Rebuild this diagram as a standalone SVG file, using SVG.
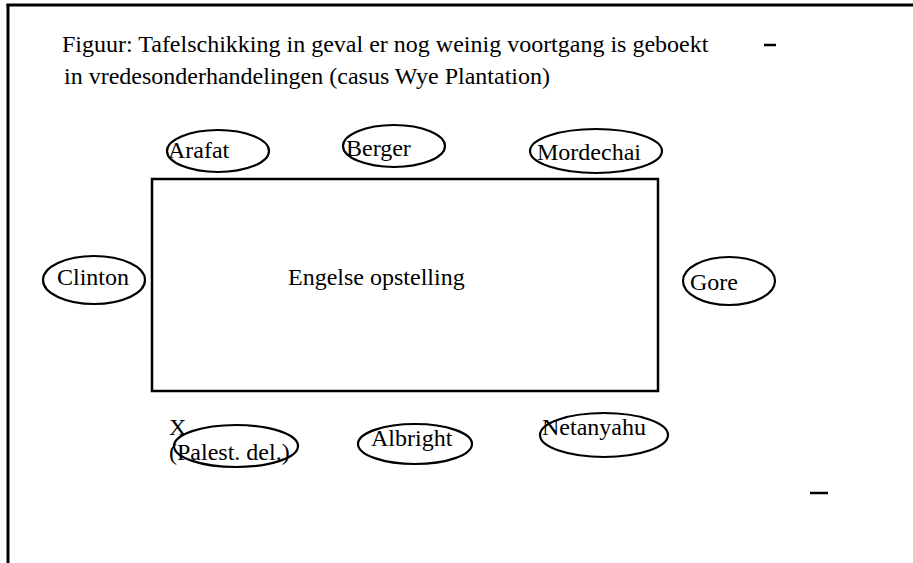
<svg xmlns="http://www.w3.org/2000/svg" width="913" height="563" viewBox="0 0 913 563">
<style>
text{font-family:"Liberation Serif","Times New Roman",serif;font-size:24px;fill:#000}
.seat{fill:none;stroke:#000;stroke-width:2.2}
.frame{stroke:#000;stroke-width:3;fill:none}
</style>
<rect width="913" height="563" fill="#fff"/>
<g id="frame">
<line class="frame" x1="6.5" y1="5" x2="913" y2="5"/>
<line class="frame" x1="8" y1="4" x2="8" y2="563"/>
<line x1="764" y1="45" x2="776" y2="45" stroke="#000" stroke-width="2.5"/>
<line x1="810" y1="493" x2="828" y2="493" stroke="#000" stroke-width="2.5"/>
</g>
<g id="title">
<text x="62" y="52">Figuur: Tafelschikking in geval er nog weinig voortgang is geboekt</text>
<text x="64" y="84">in vredesonderhandelingen (casus Wye Plantation)</text>
</g>
<g id="table">
<rect x="152" y="179" width="506" height="212" fill="none" stroke="#000" stroke-width="2.5"/>
<text x="288" y="285">Engelse opstelling</text>
</g>
<g id="arafat"><ellipse class="seat" cx="218" cy="151" rx="51" ry="21"/><text x="168" y="158">Arafat</text></g>
<g id="berger"><ellipse class="seat" cx="394" cy="146" rx="51" ry="21"/><text x="346" y="156">Berger</text></g>
<g id="mordechai"><ellipse class="seat" cx="596" cy="151" rx="66" ry="22"/><text x="537" y="160">Mordechai</text></g>
<g id="clinton"><ellipse class="seat" cx="94" cy="280" rx="51" ry="24"/><text x="57" y="285">Clinton</text></g>
<g id="gore"><ellipse class="seat" cx="729" cy="281" rx="46" ry="24"/><text x="690" y="290">Gore</text></g>
<g id="palest"><ellipse class="seat" cx="236" cy="446" rx="62" ry="21"/><text x="169" y="435">X</text><text x="169" y="460">(Palest. del.)</text></g>
<g id="albright"><ellipse class="seat" cx="415" cy="444" rx="57" ry="20"/><text x="371" y="446">Albright</text></g>
<g id="netanyahu"><ellipse class="seat" cx="604" cy="435" rx="64" ry="22"/><text x="542" y="435">Netanyahu</text></g>
<g id="connectors"/>
</svg>
